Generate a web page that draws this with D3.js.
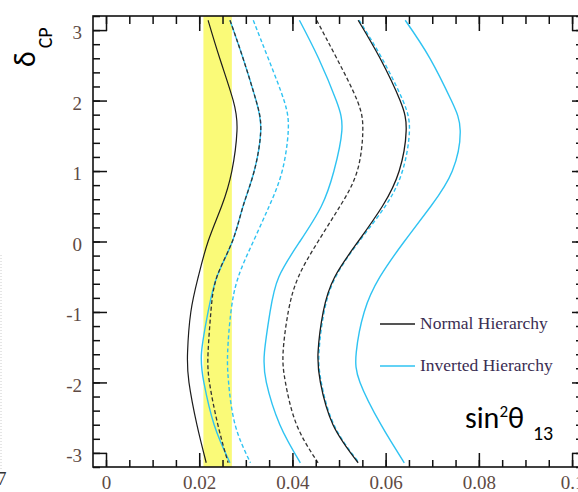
<!DOCTYPE html>
<meta charset="utf-8">
<title>delta CP vs sin2 theta13</title>
<style>
  body { margin: 0; background: #fff; }
  svg { display: block; }
</style>
<div id="viz"></div>
<script src="https://cdn.jsdelivr.net/npm/d3@7"></script>
<script>

var width = 578;
var height = 492;

// delta_CP knots, shared by every contour
var delta = [3.14, 2.6, 2.0, 1.57, 1.0, 0.5, 0, -0.5, -1.0, -1.57, -2.0, -2.6, -3.14];

// normal hierarchy (black)
var nhSolidInner = [0.0219, 0.0244, 0.0273, 0.0281, 0.0270, 0.0248, 0.0219, 0.0198, 0.0182, 0.0175, 0.0178, 0.0195, 0.0215];
var nhDashInner  = [0.0266, 0.0294, 0.0322, 0.0332, 0.0318, 0.0294, 0.0271, 0.0238, 0.0225, 0.0219, 0.0222, 0.0240, 0.0262];
var nhDashOuter  = [0.0452, 0.0495, 0.0539, 0.0551, 0.0539, 0.0502, 0.0455, 0.0413, 0.0391, 0.0380, 0.0385, 0.0409, 0.0455];
var nhSolidOuter = [0.0541, 0.0588, 0.0631, 0.0644, 0.0629, 0.0593, 0.0541, 0.0491, 0.0466, 0.0455, 0.0460, 0.0487, 0.0541];

// inverted hierarchy (cyan)
var ihSolidInner = [0.0266, 0.0294, 0.0322, 0.0332, 0.0318, 0.0294, 0.0271, 0.0238, 0.0219, 0.0205, 0.0210, 0.0232, 0.0266];
var ihDashInner  = [0.0316, 0.0348, 0.0382, 0.0391, 0.0378, 0.0350, 0.0316, 0.0284, 0.0268, 0.0261, 0.0263, 0.0277, 0.0310];
var ihSolidMid   = [0.0415, 0.0456, 0.0494, 0.0506, 0.0489, 0.0462, 0.0416, 0.0371, 0.0352, 0.0340, 0.0344, 0.0373, 0.0417];
var ihDashOuter  = [0.0543, 0.0592, 0.0637, 0.0651, 0.0636, 0.0599, 0.0543, 0.0493, 0.0468, 0.0457, 0.0462, 0.0489, 0.0543];
var ihSolidOuter = [0.0642, 0.0695, 0.0741, 0.0760, 0.0743, 0.0697, 0.0640, 0.0588, 0.0554, 0.0537, 0.0545, 0.0590, 0.0640];

// reactor band
var band = [0.0209, 0.0270];

var xTicks = [0, 0.02, 0.04, 0.06, 0.08, 0.1];
var yTicks = [-3, -2, -1, 0, 1, 2, 3];
var legendLabels = ["Normal Hierarchy", "Inverted Hierarchy"];

var black = "#1c1c1c";
var cyan = "#2fc3f2";

var svg = d3.select("#viz")
      .append("svg")
      .attr("width", width)
      .attr("height", height);

svg.append("rect").attr("width", width).attr("height", height).attr("fill", "#fff");

var x = d3.scaleLinear().domain([-0.00279, 0.1017]).range([93, 580]);
var y = d3.scaleLinear().domain([-3.2, 3.2]).range([467, 16]);

// yellow band
svg.append("rect")
  .attr("x", x(band[0]))
  .attr("y", y(3.2))
  .attr("width", x(band[1]) - x(band[0]))
  .attr("height", y(-3.2) - y(3.2))
  .attr("fill", "#fafa78");

var line = d3.line()
  .x(function(d) { return x(d[0]); })
  .y(function(d) { return y(d[1]); })
  .curve(d3.curveNatural);

function draw(vals, color, dash, w) {
  svg.append("path")
    .datum(vals.map(function(v, i) { return [v, delta[i]]; }))
    .attr("d", line)
    .attr("fill", "none")
    .attr("stroke", color)
    .attr("stroke-width", w)
    .attr("stroke-dasharray", dash ? "4,2.5" : null);
}

draw(ihSolidInner, cyan, false, 1.4);
draw(ihDashInner, cyan, true, 1.4);
draw(ihSolidMid, cyan, false, 1.4);
draw(ihDashOuter, cyan, true, 1.4);
draw(ihSolidOuter, cyan, false, 1.4);
draw(nhSolidInner, black, false, 1.2);
draw(nhDashInner, "#333", true, 1.3);
draw(nhDashOuter, "#333", true, 1.3);
draw(nhSolidOuter, black, false, 1.3);

// axes, ticks pointing inward
var labelColor = "#5e4a44";
function styleAxis(g) {
  g.select(".domain").remove();
  g.selectAll("line").attr("stroke", "#111").attr("stroke-width", 1.5);
  g.selectAll("text")
    .attr("fill", labelColor)
    .style("font-family", "'Liberation Serif', 'Times New Roman', serif")
    .style("font-size", "19px");
}

var xMinor = d3.range(0, 0.1001, 0.005);
var yMinor = d3.range(-3.2, 3.201, 0.2);

svg.append("g").attr("transform", "translate(0,467)")
  .call(d3.axisBottom(x).tickValues(xMinor).tickSize(-7).tickFormat(""))
  .call(styleAxis);
svg.append("g").attr("transform", "translate(0,467)")
  .call(d3.axisBottom(x).tickValues(xTicks).tickSize(-14).tickPadding(9)
    .tickFormat(d3.format("~g")))
  .call(styleAxis);
svg.append("g").attr("transform", "translate(0,16)")
  .call(d3.axisTop(x).tickValues(xMinor).tickSize(-8).tickFormat(""))
  .call(styleAxis);
svg.append("g").attr("transform", "translate(0,16)")
  .call(d3.axisTop(x).tickValues(xTicks).tickSize(-15).tickFormat(""))
  .call(styleAxis);

svg.append("g").attr("transform", "translate(93,0)")
  .call(d3.axisLeft(y).tickValues(yMinor).tickSize(-7).tickFormat(""))
  .call(styleAxis);
svg.append("g").attr("transform", "translate(93,0)")
  .call(d3.axisLeft(y).tickValues(yTicks).tickSize(-14).tickPadding(11)
    .tickFormat(function(d) { return String(d); }))
  .call(styleAxis)
  .selectAll("text").attr("dy", "0.45em");
svg.append("g").attr("transform", "translate(580,0)")
  .call(d3.axisRight(y).tickValues(yMinor).tickSize(-4).tickFormat(""))
  .call(styleAxis);
svg.append("g").attr("transform", "translate(580,0)")
  .call(d3.axisRight(y).tickValues(yTicks).tickSize(-8).tickFormat(""))
  .call(styleAxis);

// frame
svg.append("rect")
  .attr("x", 93).attr("y", 16)
  .attr("width", 580 - 93).attr("height", 467 - 16)
  .attr("fill", "none")
  .attr("stroke", "#111")
  .attr("stroke-width", 1.6);

// legend
var legend = svg.append("g");
legendLabels.forEach(function(lab, i) {
  var ly = 324 + i * 42;
  legend.append("line")
    .attr("x1", 380).attr("x2", 415).attr("y1", ly).attr("y2", ly)
    .attr("stroke", i == 0 ? black : cyan)
    .attr("stroke-width", 1.5);
  legend.append("text")
    .attr("x", 420).attr("y", ly + 5)
    .attr("fill", "#3a2d52")
    .style("font-family", "'Liberation Serif', 'Times New Roman', serif")
    .style("font-size", "17.5px")
    .text(lab);
});

// axis titles
var titleFont = "Carlito, 'Liberation Sans Narrow', 'DejaVu Sans Condensed', sans-serif";
var xt = svg.append("text")
  .attr("x", 465).attr("y", 428)
  .attr("fill", "#000")
  .style("font-family", titleFont)
  .style("font-size", "30px");
xt.append("tspan").text("sin");
xt.append("tspan").attr("dy", -11).style("font-size", "17px").text("2");
xt.append("tspan").attr("dy", 11).text("θ");
xt.append("tspan").attr("dy", 12).attr("dx", 9).style("font-size", "20px").text("13");

var yt = svg.append("text")
  .attr("transform", "translate(35,67) rotate(-90)")
  .attr("fill", "#000")
  .style("font-family", titleFont)
  .style("font-size", "30px");
yt.append("tspan").text("δ");
yt.append("tspan").attr("dy", 17).attr("dx", 3).style("font-size", "20px").text("CP");

// clipped remnant of the neighbouring panel
svg.append("text")
  .attr("x", -3).attr("y", 485)
  .attr("fill", "#333")
  .style("font-family", "'Liberation Serif', serif")
  .style("font-size", "19px")
  .text("7");
svg.append("line")
  .attr("x1", 1).attr("x2", 1).attr("y1", 255).attr("y2", 470)
  .attr("stroke", "#ccc")
  .attr("stroke-dasharray", "1,2");

</script>
